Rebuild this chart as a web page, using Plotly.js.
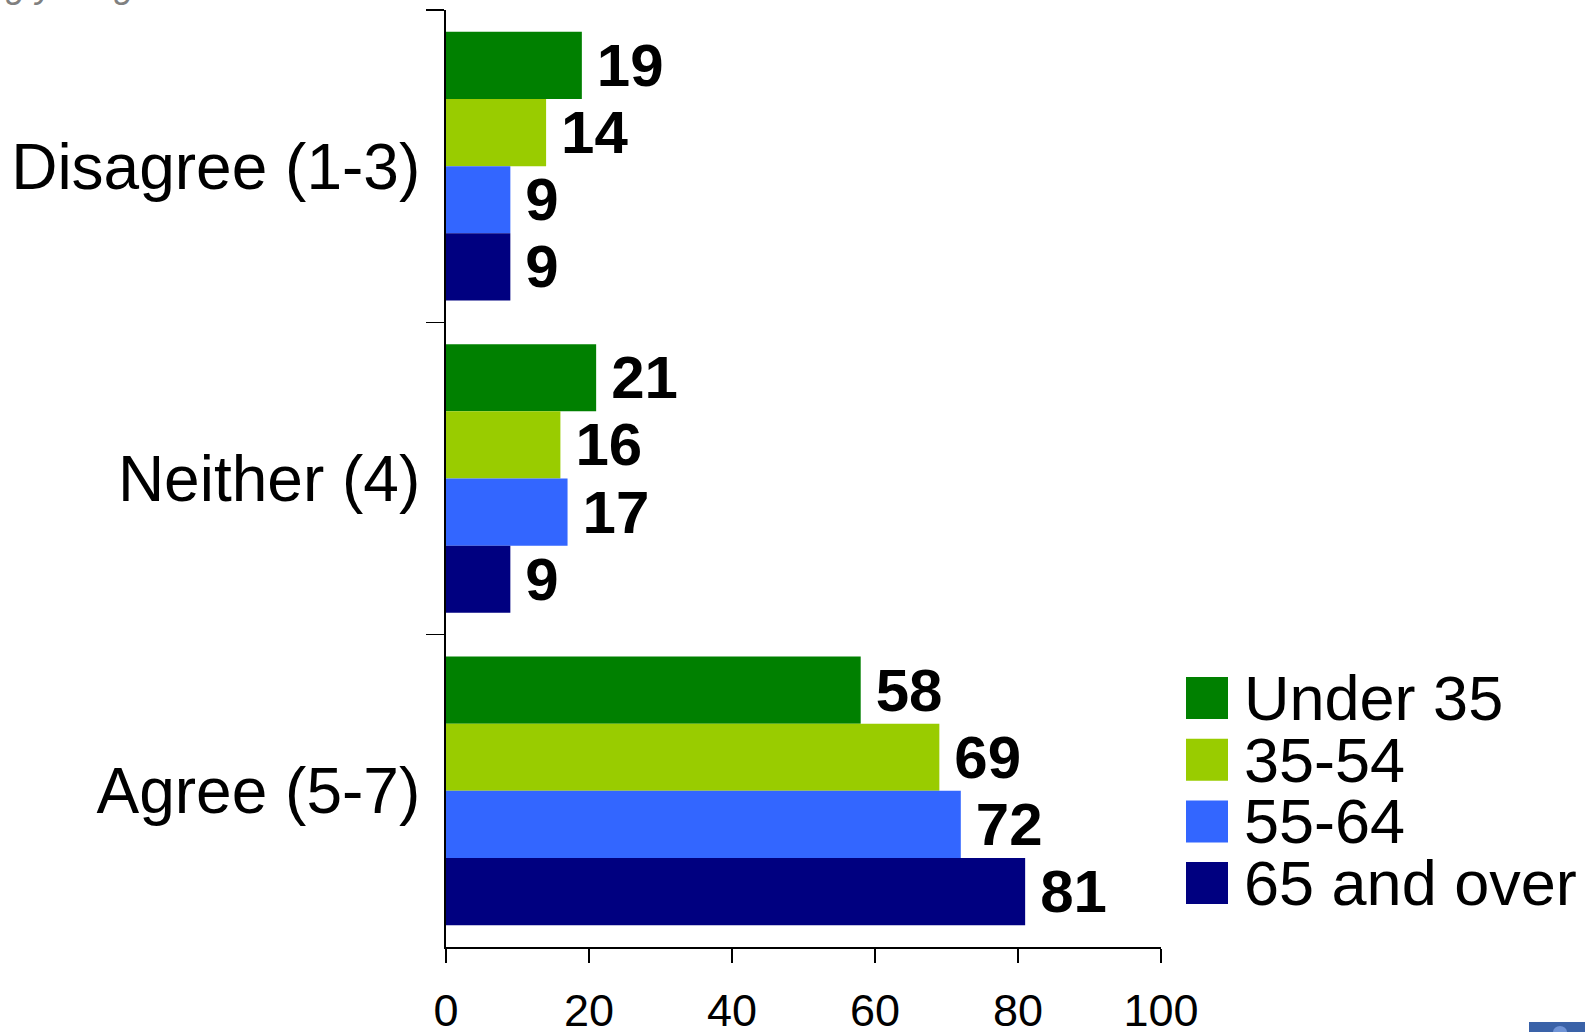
<!DOCTYPE html>
<html><head><meta charset="utf-8">
<script src="https://cdn.plot.ly/plotly-3.0.1.min.js"></script>
<style>html,body{margin:0;padding:0;background:#fff;overflow:hidden}</style>
</head><body><div id="chart" style="width:1585px;height:1032px"></div>
<script>
// ---- data ----
const categories = ['Disagree (1-3)', 'Neither (4)', 'Agree (5-7)'];
const seriesNames = ['Under 35', '35-54', '55-64', '65 and over'];
const under35 = [19, 21, 58];
const age35to54 = [14, 16, 69];
const age55to64 = [9, 17, 72];
const age65plus = [9, 9, 81];
const xTickValues = [0, 20, 40, 60, 80, 100];
const topFragmentText = 'among young';

// ---- styles ----
const seriesValues = [under35, age35to54, age55to64, age65plus];
const seriesColors = ['#008000', '#99CC00', '#3366FF', '#000080'];
const FONT = 'Liberation Sans, Arial, Helvetica, sans-serif';
const W = 1585, H = 1032;
const L = 446, R = 1161, T = 10, B = 947;
const xp = px => (px - L) / (R - L);
const yp = py => (B - py) / (B - T);

const traces = seriesNames.map((name, i) => ({
  type: 'bar',
  orientation: 'h',
  name: name,
  y: categories,
  x: seriesValues[i],
  marker: {color: seriesColors[i], line: {width: 0}},
  text: seriesValues[i].map(v => '\u2009' + v),
  textposition: 'outside',
  textfont: {family: FONT, size: 60, color: '#000', weight: 'bold'},
  constraintext: 'none',
  cliponaxis: false,
  hoverinfo: 'x+name'
}));

const shapes = [];
const annotations = [];
const boxTop0 = 677, boxStep = 61.7, boxSize = 42, boxLeft = 1186, textLeft = 1243;
seriesNames.forEach((name, i) => {
  const top = boxTop0 + i * boxStep;
  shapes.push({type: 'rect', xref: 'paper', yref: 'paper',
    x0: xp(boxLeft), x1: xp(boxLeft + boxSize), y0: yp(top + boxSize), y1: yp(top),
    fillcolor: seriesColors[i], line: {width: 0}});
  annotations.push({xref: 'paper', yref: 'paper', x: xp(textLeft), y: yp(top + boxSize / 2),
    xanchor: 'left', yanchor: 'middle', showarrow: false, text: name,
    height: 60, valign: 'middle', borderpad: 0,
    font: {family: FONT, size: 63, color: '#000'}});
});
// partial grey text at top-left (cut off by the page edge)
annotations.push({xref: 'paper', yref: 'paper', x: xp(136), y: yp(7),
  xanchor: 'right', yanchor: 'bottom', showarrow: false, text: '<i>' + topFragmentText + '</i>',
  font: {family: FONT, size: 36, color: '#808080'}});
// corner mark bottom-right
shapes.push({type: 'rect', xref: 'paper', yref: 'paper', x0: xp(1529), x1: xp(1590), y0: yp(1040), y1: yp(1022),
  fillcolor: '#3A62A8', line: {width: 0}});
shapes.push({type: 'circle', xref: 'paper', yref: 'paper', x0: xp(1553), x1: xp(1567), y0: yp(1038), y1: yp(1026),
  fillcolor: '#6F93D6', line: {width: 0}});

const layout = {
  width: W, height: H,
  margin: {l: L, r: W - R, t: T, b: H - B, pad: 0},
  paper_bgcolor: '#fff', plot_bgcolor: '#fff',
  barmode: 'group', bargap: 0.14, bargroupgap: 0,
  showlegend: false,
  font: {family: FONT, color: '#000'},
  xaxis: {
    range: [0, 100], tickvals: xTickValues, ticktext: xTickValues.map(String),
    ticks: 'outside', ticklen: 14, tickwidth: 1.5, tickcolor: '#000',
    showline: true, linewidth: 2, linecolor: '#000',
    showgrid: false, zeroline: false,
    tickfont: {family: FONT, size: 45, color: '#000'},
    ticklabelstandoff: 9, fixedrange: true
  },
  yaxis: {
    type: 'category', categoryorder: 'array', categoryarray: categories,
    autorange: 'reversed',
    tickson: 'boundaries', ticks: 'outside', ticklen: 18, tickwidth: 1.5, tickcolor: '#000',
    showline: true, linewidth: 2, linecolor: '#000',
    showgrid: false, zeroline: false,
    tickfont: {family: FONT, size: 64, color: '#000'},
    ticklabelstandoff: 11, fixedrange: true
  },
  shapes: shapes,
  annotations: annotations
};

Plotly.newPlot('chart', traces, layout, {displayModeBar: false, staticPlot: true});
</script></body></html>
